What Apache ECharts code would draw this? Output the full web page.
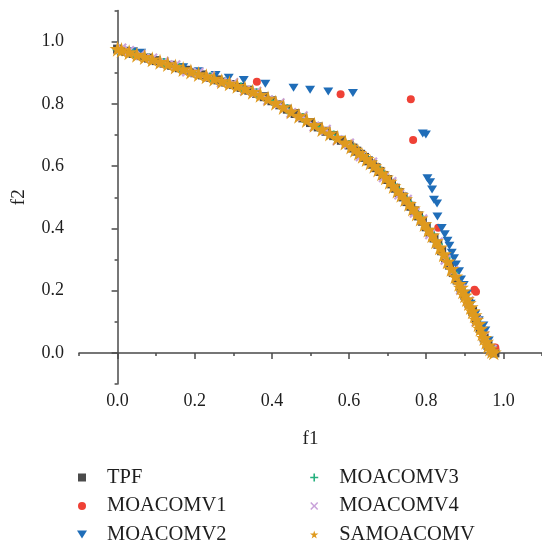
<!DOCTYPE html>
<html><head><meta charset="utf-8">
<script src="https://cdn.jsdelivr.net/npm/echarts@6/dist/echarts.min.js"></script>
<style>html,body{margin:0;padding:0;background:#fff}#c{width:542px;height:545px}</style>
</head><body><div id="c"></div>
<script>
// ---- data ----
const seriesNames = ['TPF', 'MOACOMV1', 'MOACOMV2', 'MOACOMV3', 'MOACOMV4', 'SAMOACOMV'];
const xMajorTicks = [0.0, 0.2, 0.4, 0.6, 0.8, 1.0];
const xMinorTicks = [-0.1, 0.1, 0.3, 0.5, 0.7, 0.9, 1.1];
const yMajorTicks = [0.0, 0.2, 0.4, 0.6, 0.8, 1.0];
const yMinorTicks = [-0.1, 0.1, 0.3, 0.5, 0.7, 0.9, 1.1];

const tpf = [
 [0.00,0.976],[0.02,0.969],[0.04,0.962],[0.06,0.955],[0.08,0.947],[0.10,0.939],[0.12,0.931],[0.14,0.924],
 [0.16,0.916],[0.18,0.908],[0.20,0.900],[0.22,0.893],[0.24,0.885],[0.26,0.877],[0.28,0.870],[0.30,0.862],
 [0.32,0.853],[0.34,0.844],[0.36,0.834],[0.38,0.823],[0.40,0.810],[0.42,0.797],[0.44,0.783],[0.46,0.769],
 [0.48,0.755],[0.50,0.740],[0.52,0.726],[0.54,0.712],[0.56,0.698],[0.58,0.683],[0.60,0.668],[0.61,0.658],
 [0.62,0.648],[0.63,0.638],[0.64,0.628],[0.65,0.617],[0.66,0.606],[0.67,0.595],[0.68,0.583],[0.69,0.570],
 [0.70,0.557],[0.71,0.543],[0.72,0.529],[0.73,0.515],[0.74,0.501],[0.75,0.486],[0.76,0.471],[0.77,0.456],
 [0.78,0.440],[0.79,0.423],[0.80,0.405],[0.81,0.387],[0.82,0.369],[0.83,0.349],[0.84,0.328],[0.85,0.305],
 [0.86,0.282],[0.87,0.258],[0.88,0.234],[0.89,0.210],[0.90,0.185],[0.91,0.160],[0.92,0.134],[0.93,0.107],
 [0.94,0.078],[0.95,0.048],[0.96,0.024],[0.97,0.006],[0.978,0.000]
];
const moacomv1 = [
 [0.361,0.871],[0.578,0.831],[0.760,0.815],[0.766,0.684],[0.831,0.402],[0.925,0.203],[0.929,0.196],[0.979,0.017]
];
const moacomv2 = [
 [0.040,0.969],[0.061,0.964],[0.170,0.918],[0.210,0.905],[0.254,0.893],[0.288,0.884],[0.327,0.877],[0.383,0.865],
 [0.456,0.852],[0.499,0.845],[0.546,0.840],[0.610,0.835],[0.791,0.705],[0.799,0.702],[0.803,0.561],[0.810,0.548],
 [0.815,0.525],[0.820,0.492],[0.828,0.480],[0.829,0.438],[0.840,0.401],[0.848,0.381],[0.855,0.360],[0.860,0.344],
 [0.866,0.322],[0.872,0.304],[0.877,0.284],[0.885,0.262],[0.890,0.236],[0.897,0.218],[0.905,0.190],[0.915,0.158],
 [0.927,0.124],[0.936,0.105],[0.948,0.088],[0.953,0.072],[0.962,0.040],[0.972,0.012]
];
const moacomv3 = [
 [0.00,0.975],[0.04,0.962],[0.08,0.947],[0.12,0.931],[0.16,0.916],[0.20,0.900],[0.24,0.885],[0.28,0.870],
 [0.32,0.853],[0.36,0.834],[0.40,0.810],[0.44,0.783],[0.48,0.755],[0.52,0.726],[0.56,0.698],[0.60,0.668],
 [0.64,0.628],[0.68,0.583],[0.72,0.529],[0.75,0.486],[0.78,0.440],[0.81,0.387],[0.83,0.349],[0.85,0.305],
 [0.87,0.258],[0.89,0.210],[0.91,0.160],[0.93,0.107],[0.95,0.048],[0.97,0.006]
];
const moacomv4 = [
 [0.01,0.978],[0.03,0.970],[0.06,0.958],[0.09,0.946],[0.12,0.935],[0.15,0.924],[0.18,0.904],[0.21,0.900],
 [0.24,0.889],[0.27,0.869],[0.30,0.867],[0.33,0.843],[0.36,0.839],[0.39,0.812],[0.42,0.802],[0.45,0.771],
 [0.48,0.760],[0.51,0.727],[0.54,0.717],[0.57,0.683],[0.60,0.673],[0.63,0.632],[0.66,0.612],[0.69,0.564],
 [0.71,0.549],[0.73,0.509],[0.75,0.492],[0.77,0.450],[0.79,0.429],[0.81,0.381],[0.83,0.355],[0.85,0.299],
 [0.87,0.264],[0.89,0.204],[0.91,0.166],[0.93,0.101],[0.95,0.054],[0.97,0.010]
];
const samoacomv = [
 [0.00,0.977],[0.01,0.973],[0.03,0.966],[0.05,0.958],[0.07,0.951],[0.09,0.943],[0.11,0.935],[0.13,0.928],
 [0.15,0.920],[0.17,0.912],[0.19,0.904],[0.21,0.896],[0.23,0.889],[0.25,0.881],[0.27,0.873],[0.29,0.866],
 [0.31,0.858],[0.33,0.849],[0.35,0.839],[0.37,0.829],[0.39,0.817],[0.41,0.804],[0.43,0.790],[0.45,0.776],
 [0.47,0.762],[0.49,0.748],[0.51,0.733],[0.53,0.719],[0.55,0.705],[0.57,0.691],[0.59,0.676],[0.605,0.663],
 [0.615,0.653],[0.625,0.643],[0.635,0.633],[0.645,0.623],[0.655,0.612],[0.665,0.601],[0.675,0.589],[0.685,0.577],
 [0.695,0.564],[0.705,0.550],[0.715,0.536],[0.725,0.522],[0.735,0.508],[0.745,0.494],[0.755,0.479],[0.765,0.464],
 [0.775,0.448],[0.785,0.432],[0.795,0.414],[0.805,0.396],[0.815,0.378],[0.825,0.359],[0.835,0.339],[0.845,0.317],
 [0.855,0.294],[0.865,0.270],[0.875,0.246],[0.885,0.222],[0.890,0.210],[0.895,0.198],[0.900,0.185],[0.905,0.173],
 [0.910,0.160],[0.915,0.147],[0.920,0.134],[0.925,0.121],[0.930,0.107],[0.935,0.093],[0.940,0.078],[0.945,0.063],
 [0.950,0.048],[0.955,0.036],[0.960,0.024],[0.965,0.014],[0.970,0.006],[0.975,0.002]
];

// ---- styling ----
const FONT = '"Liberation Serif", "Times New Roman", serif';
const AXIS_COLOR = '#4a4a4a';
const TEXT_COLOR = '#1e1e1e';
const colors = ['#4b4b4b', '#ef4136', '#1f6db8', '#26b07e', '#c9a3da', '#df9a1e'];
const SQ = 'path://M0,0H10V10H0Z';
const CIRC = 'path://M5,0A5,5,0,1,1,5,10A5,5,0,1,1,5,0Z';
const TRI = 'path://M0,0L10,0L5,8Z';
const PLUS = 'path://M4,0H6V4H10V6H6V10H4V6H0V4H4Z';
const CROSS = 'path://M1.4,0L5,3.6L8.6,0L10,1.4L6.4,5L10,8.6L8.6,10L5,6.4L1.4,10L0,8.6L3.6,5L0,1.4Z';
const STAR = 'path://M50,0L61,35L98,35L68,57L79,91L50,70L21,91L32,57L2,35L39,35Z';

const chart = echarts.init(document.getElementById('c'), null, {renderer: 'canvas'});

const lineStyle = {color: AXIS_COLOR, width: 1.5};
function axisPair(dim, major, minor, name) {
  const isX = dim === 'x';
  return [
    {
      type: 'value', position: isX ? 'bottom' : 'left', min: -0.1, max: 1.1,
      axisLine: {show: true, lineStyle},
      axisTick: {show: true, customValues: major, length: 6, lineStyle},
      minorTick: {show: false},
      axisLabel: {customValues: major, formatter: v => v.toFixed(1), fontFamily: FONT, fontSize: 18,
                  color: TEXT_COLOR, margin: isX ? 8 : 15},
      splitLine: {show: false},
      name: name, nameLocation: 'middle', nameGap: isX ? 46 : 50,
      nameTextStyle: {fontFamily: FONT, fontSize: 19, color: TEXT_COLOR}
    },
    {
      type: 'value', position: isX ? 'bottom' : 'left', min: -0.1, max: 1.1,
      axisLine: {show: false},
      axisTick: {show: true, customValues: minor, length: 3, lineStyle},
      axisLabel: {show: false},
      splitLine: {show: false}
    }
  ];
}

const symbols = [SQ, CIRC, TRI, PLUS, CROSS, STAR];
const sizes = [[9, 9], [8, 8], [10, 8], [10, 10], [11, 11], [16, 16]];
const datas = [tpf, moacomv1, moacomv2, moacomv3, moacomv4, samoacomv];

const legendText = {fontFamily: FONT, fontSize: 20.5, color: TEXT_COLOR, lineHeight: 20};
function legendBlock(idxs, left) {
  return {
    orient: 'vertical', left: left, top: 467, padding: 0,
    itemWidth: 40, itemHeight: 8, itemGap: 7.5, selectedMode: false,
    textStyle: legendText,
    data: idxs.map(i => ({name: seriesNames[i], icon: symbols[i]}))
  };
}

chart.setOption({
  animation: false,
  backgroundColor: '#ffffff',
  grid: {left: 79, top: 10.5, width: 466, height: 373.5, containLabel: false},
  xAxis: axisPair('x', xMajorTicks, xMinorTicks, 'f1'),
  yAxis: axisPair('y', yMajorTicks, yMinorTicks, 'f2'),
  legend: [legendBlock([0, 1, 2], 77), legendBlock([3, 4, 5], 310)],
  series: seriesNames.map((n, i) => ({
    name: n, type: 'scatter', xAxisIndex: 0, yAxisIndex: 0,
    symbol: symbols[i], symbolSize: sizes[i], symbolKeepAspect: false,
    itemStyle: {color: colors[i], opacity: 1},
    data: datas[i], z: 2 + i
  }))
});
</script></body></html>
